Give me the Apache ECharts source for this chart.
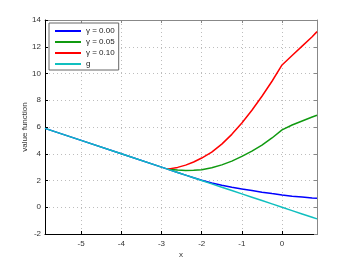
<!DOCTYPE html>
<html><head><meta charset="utf-8">
<script src="https://cdn.jsdelivr.net/npm/echarts@6/dist/echarts.min.js"></script>
<style>html,body{margin:0;padding:0;background:#fff}#c{width:350px;height:264px}</style>
</head><body><div id="c"></div>
<script>
// Data
const xTicks = [-5, -4, -3, -2, -1, 0];
const xMin = -5.9, xMax = 0.87;
const xs = [-5.9, -5, -4, -3, -2.85, -2.6, -2.4, -2.2, -2, -1.75, -1.5, -1.25, -1, -0.75, -0.5, -0.25, 0, 0.25, 0.5, 0.75, 0.87];
const gamma000 = [5.9, 5, 4, 3, 2.85, 2.6, 2.4, 2.2, 2.02, 1.82, 1.65, 1.5, 1.37, 1.25, 1.13, 1.02, 0.92, 0.83, 0.76, 0.69, 0.67];
const gamma005 = [null, null, null, null, 2.85, 2.78, 2.75, 2.76, 2.8, 2.95, 3.17, 3.45, 3.8, 4.2, 4.65, 5.18, 5.78, 6.15, 6.45, 6.75, 6.88];
const gamma010 = [null, null, null, null, 2.85, 2.98, 3.15, 3.38, 3.68, 4.12, 4.72, 5.45, 6.3, 7.25, 8.3, 9.42, 10.64, 11.35, 12.05, 12.75, 13.13];
const gVals = [5.9, 5, 4, 3, 2.85, 2.6, 2.4, 2.2, 2, 1.75, 1.5, 1.25, 1, 0.75, 0.5, 0.25, 0, -0.25, -0.5, -0.75, -0.87];
const names = ['γ = 0.00', 'γ = 0.05', 'γ = 0.10', 'g'];

function pairs(vals) {
  const out = [];
  xs.forEach((x, i) => { if (vals[i] !== null) out.push([x, vals[i]]); });
  return out;
}

const font = 'Liberation Sans';
const chart = echarts.init(document.getElementById('c'), null, {renderer: 'canvas'});
const gridLine = {show: true, lineStyle: {color: '#bdbdbd', type: [1, 3], width: 1}};
const mkSeries = (name, vals, color) => ({
  name, type: 'line', data: pairs(vals), symbol: 'none', showSymbol: false,
  lineStyle: {color, width: 1.5}, itemStyle: {color}, animation: false, z: 3
});

chart.setOption({
  animation: false,
  backgroundColor: '#fff',
  grid: {left: 45, right: 33, top: 20, bottom: 30},
  legend: {
    orient: 'vertical', left: 49, top: 23,
    data: names,
    icon: 'rect',
    itemWidth: 26, itemHeight: 2, itemGap: 1,
    padding: [3, 4, 1, 6],
    borderColor: '#666', borderWidth: 1, backgroundColor: '#fff',
    textStyle: {fontFamily: font, fontSize: 8, color: '#222', lineHeight: 10},
    z: 10
  },
  xAxis: [{
    type: 'value', min: xMin, max: xMax,
    name: 'x', nameLocation: 'middle', nameGap: 17, nameMoveOverlap: false,
    nameTextStyle: {fontFamily: font, fontSize: 8, color: '#333'},
    axisLine: {show: true, onZero: false, lineStyle: {color: '#000', width: 1}},
    axisTick: {show: true, inside: true, length: 3, customValues: xTicks, lineStyle: {color: '#000'}},
    axisLabel: {customValues: xTicks, fontFamily: font, fontSize: 8, color: '#333', margin: 6},
    splitLine: gridLine
  }, {
    type: 'value', min: xMin, max: xMax, position: 'top',
    axisLine: {show: true, onZero: false, lineStyle: {color: '#888', width: 1}},
    axisTick: {show: true, inside: true, length: 3, customValues: xTicks, lineStyle: {color: '#888'}},
    axisLabel: {show: false}, splitLine: {show: false}
  }],
  yAxis: [{
    type: 'value', min: -2, max: 14, interval: 2,
    name: 'value function', nameLocation: 'middle', nameGap: 16, nameRotate: 90, nameMoveOverlap: false,
    nameTextStyle: {fontFamily: font, fontSize: 8, color: '#333'},
    axisLine: {show: true, onZero: false, lineStyle: {color: '#000', width: 1}},
    axisTick: {show: true, inside: true, length: 3, lineStyle: {color: '#000'}},
    axisLabel: {fontFamily: font, fontSize: 8, color: '#333', margin: 4},
    splitLine: gridLine
  }, {
    type: 'value', min: -2, max: 14, interval: 2, position: 'right',
    axisLine: {show: true, onZero: false, lineStyle: {color: '#888', width: 1}},
    axisTick: {show: true, inside: true, length: 3, lineStyle: {color: '#888'}},
    axisLabel: {show: false}, splitLine: {show: false}
  }],
  series: [
    mkSeries(names[0], gamma000, '#0000ff'),
    mkSeries(names[1], gamma005, '#109a10'),
    mkSeries(names[2], gamma010, '#ff0000'),
    mkSeries(names[3], gVals, '#10bfbf')
  ]
});
</script></body></html>
